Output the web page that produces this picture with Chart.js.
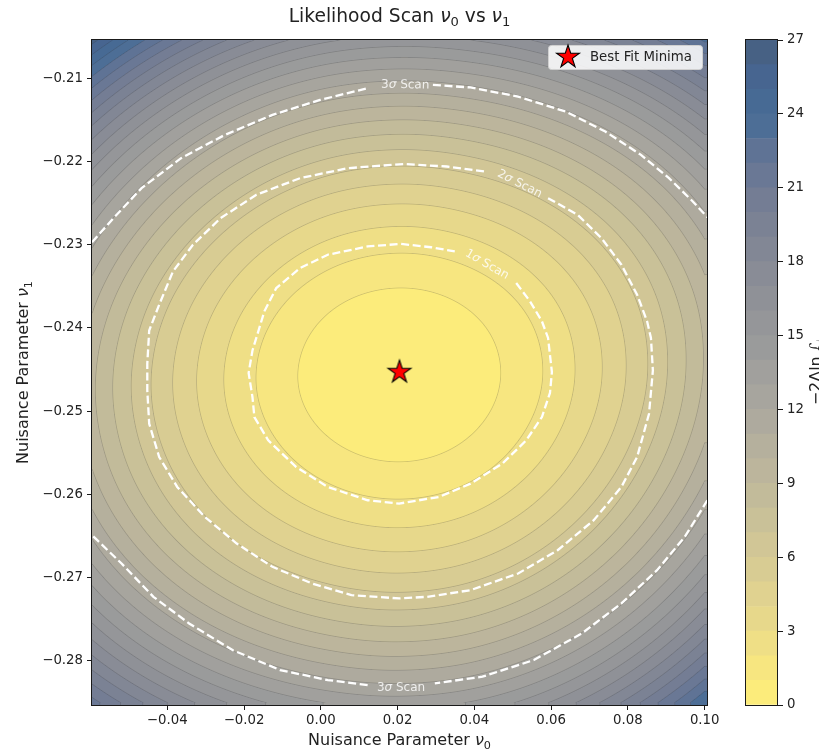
<!DOCTYPE html>
<html>
<head>
<meta charset="utf-8">
<title>Likelihood Scan</title>
<script src="https://cdn.jsdelivr.net/npm/chart.js@4.4.1/dist/chart.umd.min.js"></script>
<style>
  html, body { margin: 0; padding: 0; background: #ffffff; }
  #wrap { position: relative; width: 819px; height: 751px; overflow: hidden; }
  #scanChart { position: absolute; left: 0; top: 0; width: 819px; height: 751px; }
  #cbarChart { position: absolute; left: 745px; top: 0; width: 74px; height: 751px; }
</style>
</head>
<body>
<div id="wrap">
  <canvas id="scanChart" width="819" height="751"></canvas>
  <canvas id="cbarChart" width="74" height="751"></canvas>
</div>
<script>
// ---- data ----

// grid nodes of the scan (nu0 along x, nu1 along y)
const gridX = [-0.06, -0.04, -0.02, 0.00, 0.02, 0.04, 0.06, 0.08, 0.10];
const gridY = [-0.285, -0.275, -0.265, -0.255, -0.245, -0.235, -0.225, -0.215, -0.205];

// -2 Delta ln L at the grid nodes, one row per gridY value (bottom to top)
const chi2Grid = [
    [21.48, 18.00, 15.52, 14.03, 13.51, 14.14, 16.08, 19.35, 23.95],
    [15.87, 12.25,  9.66,  8.10,  7.56,  8.17, 10.05, 13.21, 17.66],
    [11.98,  8.21,  5.51,  3.89,  3.33,  3.91,  5.73,  8.79, 13.09],
    [ 9.81,  5.88,  3.08,  1.39,  0.81,  1.37,  3.13,  6.08, 10.23],
    [ 9.35,  5.27,  2.36,  0.60,  0.00,  0.55,  2.24,  5.08,  9.09],
    [10.78,  6.53,  3.50,  1.67,  1.04,  1.56,  3.18,  5.91,  9.75],
    [14.18,  9.76,  6.60,  4.69,  4.04,  4.54,  6.09,  8.69, 12.37],
    [19.53, 14.94, 11.66,  9.68,  9.00,  9.48, 10.95, 13.44, 16.94],
    [26.85, 22.08, 18.68, 16.63, 15.92, 16.37, 17.78, 20.15, 23.48]
];

// filled contour levels (also the colorbar bands)
const levels = [0, 1, 2, 3, 4, 5, 6, 7, 8, 9, 10, 11, 12, 13, 14, 15, 16, 17, 18, 19, 20, 21, 22, 23, 24, 25, 26, 27];
const cbarTicks = [0, 3, 6, 9, 12, 15, 18, 21, 24, 27];

const xTicks = [-0.04, -0.02, 0.00, 0.02, 0.04, 0.06, 0.08, 0.10];
const yTicks = [-0.28, -0.27, -0.26, -0.25, -0.24, -0.23, -0.22, -0.21];

const bestFit = [{ x: 0.0205, y: -0.2453 }];

// dashed sigma contours, [nu0, nu1], split where the inline labels sit
const sigma1Path = [
    [0.0509, -0.2346], [0.0545, -0.2368], [0.0576, -0.2392], [0.0592, -0.2412], [0.0602, -0.2453],
    [0.0597, -0.2478], [0.0576, -0.2507], [0.0535, -0.2535], [0.0473, -0.2563], [0.0390, -0.2587],
    [0.0308, -0.2603], [0.0204, -0.2611], [0.0122, -0.2607], [0.0018, -0.2591], [-0.0064, -0.2567],
    [-0.0137, -0.2535], [-0.0173, -0.2507], [-0.0178, -0.2483], [-0.0188, -0.2454], [-0.0178, -0.2427],
    [-0.0168, -0.2412], [-0.0147, -0.2380], [-0.0116, -0.2352], [-0.0054, -0.2328], [0.0018, -0.2312],
    [0.0122, -0.2302], [0.0209, -0.2299], [0.0287, -0.2303], [0.0349, -0.2308]
];
const sigma2Path = [
    [0.0592, -0.2244], [0.0669, -0.2264], [0.0731, -0.2292], [0.0783, -0.2324], [0.0824, -0.2360],
    [0.0850, -0.2392], [0.0860, -0.2412], [0.0865, -0.2451], [0.0855, -0.2503], [0.0824, -0.2555],
    [0.0783, -0.2591], [0.0711, -0.2631], [0.0617, -0.2667], [0.0514, -0.2695], [0.0390, -0.2715],
    [0.0277, -0.2723], [0.0204, -0.2725], [0.0080, -0.2721], [-0.0023, -0.2707], [-0.0126, -0.2687],
    [-0.0219, -0.2659], [-0.0302, -0.2627], [-0.0374, -0.2591], [-0.0421, -0.2555], [-0.0447, -0.2515],
    [-0.0452, -0.2475], [-0.0452, -0.2443], [-0.0447, -0.2403], [-0.0421, -0.2372], [-0.0385, -0.2332],
    [-0.0333, -0.2300], [-0.0261, -0.2268], [-0.0168, -0.2240], [-0.0054, -0.2220], [0.0070, -0.2208],
    [0.0215, -0.2203], [0.0328, -0.2206], [0.0426, -0.2212]
];
const sigma3UpperLeft = [
    [-0.0596, -0.2297], [-0.0540, -0.2268], [-0.0467, -0.2232], [-0.0364, -0.2196], [-0.0250, -0.2168],
    [-0.0126, -0.2144], [-0.0002, -0.2126], [0.0122, -0.2112]
];
const sigma3UpperRight = [
    [0.0292, -0.2108], [0.0390, -0.2111], [0.0514, -0.2122], [0.0638, -0.2140], [0.0741, -0.2164],
    [0.0834, -0.2192], [0.0907, -0.2220], [0.0969, -0.2248], [0.1007, -0.2267]
];
const sigma3LowerRight = [
    [0.1007, -0.2607], [0.0948, -0.2651], [0.0876, -0.2691], [0.0783, -0.2731], [0.0680, -0.2767],
    [0.0555, -0.2799], [0.0421, -0.2819], [0.0297, -0.2827]
];
const sigma3LowerLeft = [
    [0.0122, -0.2829], [0.0018, -0.2823], [-0.0106, -0.2811], [-0.0230, -0.2787], [-0.0343, -0.2755],
    [-0.0436, -0.2723], [-0.0519, -0.2683], [-0.0596, -0.2649]
];

// inline contour labels: sigma, nu0, nu1, angle (deg)
const contourLabels = [
    ['3', 0.0220, -0.2107, 1],
    ['2', 0.0519, -0.2226, 27],
    ['1', 0.0434, -0.2323, 30],
    ['3', 0.0209, -0.2831, 0]
];

// ---- styling ----
const FONT = "'DejaVu Sans', 'Liberation Sans', sans-serif";
const FIELD_ALPHA = 0.72;

// cividis colour stops
const cividisStops = [
    [0, 32, 76], [0, 42, 102], [0, 52, 110], [39, 63, 108], [60, 74, 107], [76, 85, 107],
    [91, 95, 109], [104, 106, 112], [117, 117, 117], [131, 129, 120], [146, 140, 120], [161, 152, 118],
    [176, 165, 114], [192, 177, 109], [209, 191, 102], [225, 204, 92], [243, 219, 79], [255, 233, 69]
];

function cividis(t) {
    t = Math.min(1, Math.max(0, t));
    const pos = t * (cividisStops.length - 1);
    const i = Math.min(cividisStops.length - 2, Math.floor(pos));
    const f = pos - i;
    const a = cividisStops[i], b = cividisStops[i + 1];
    return [0, 1, 2].map(k => a[k] + (b[k] - a[k]) * f);
}

// reversed cividis, blended over white with the contourf alpha
const nBands = levels.length - 1;
const bandRGB = [];
for (let i = 0; i < nBands; i++) {
    const c = cividis(1 - (i + 0.5) / nBands);
    bandRGB.push(c.map(v => Math.round(v * FIELD_ALPHA + 255 * (1 - FIELD_ALPHA))));
}
const bandCss = bandRGB.map(c => `rgb(${c[0]}, ${c[1]}, ${c[2]})`);

// ---- Catmull-Rom sampling of the scan grid ----
function gridValue(i, j) {
    const nx = gridX.length, ny = gridY.length;
    if (i < 0) return 3 * gridValue(0, j) - 3 * gridValue(1, j) + gridValue(2, j);
    if (i >= nx) return 3 * gridValue(nx - 1, j) - 3 * gridValue(nx - 2, j) + gridValue(nx - 3, j);
    if (j < 0) return 3 * gridValue(i, 0) - 3 * gridValue(i, 1) + gridValue(i, 2);
    if (j >= ny) return 3 * gridValue(i, ny - 1) - 3 * gridValue(i, ny - 2) + gridValue(i, ny - 3);
    return chi2Grid[j][i];
}

function catmull(p0, p1, p2, p3, t) {
    return 0.5 * (2 * p1 + (-p0 + p2) * t + (2 * p0 - 5 * p1 + 4 * p2 - p3) * t * t +
        (-p0 + 3 * p1 - 3 * p2 + p3) * t * t * t);
}

function sampleChi2(x, y) {
    const nx = gridX.length, ny = gridY.length;
    let gx = (x - gridX[0]) / (gridX[1] - gridX[0]);
    let gy = (y - gridY[0]) / (gridY[1] - gridY[0]);
    gx = Math.min(nx - 1, Math.max(0, gx));
    gy = Math.min(ny - 1, Math.max(0, gy));
    const i0 = Math.min(nx - 2, Math.floor(gx)), j0 = Math.min(ny - 2, Math.floor(gy));
    const tx = gx - i0, ty = gy - j0;
    const col = [];
    for (let m = -1; m <= 2; m++) {
        col.push(catmull(gridValue(i0 - 1, j0 + m), gridValue(i0, j0 + m),
            gridValue(i0 + 1, j0 + m), gridValue(i0 + 2, j0 + m), tx));
    }
    return catmull(col[0], col[1], col[2], col[3], ty);
}

// ---- text with italic / subscript pieces ----
function fontFor(kind, size) {
    if (kind === 'i') return `italic ${size}px ${FONT}`;
    if (kind === 's') return `${(size * 0.7).toFixed(1)}px ${FONT}`;
    return `${size}px ${FONT}`;
}

function richWidth(ctx, parts, size) {
    let w = 0;
    parts.forEach(([txt, kind]) => {
        ctx.font = fontFor(kind, size);
        w += ctx.measureText(txt).width;
    });
    return w;
}

function drawRich(ctx, parts, x, y, size, color) {
    // x is the centre of the whole string, y the baseline
    ctx.save();
    ctx.fillStyle = color;
    ctx.textBaseline = 'alphabetic';
    ctx.textAlign = 'left';
    let cx = x - richWidth(ctx, parts, size) / 2;
    parts.forEach(([txt, kind]) => {
        ctx.font = fontFor(kind, size);
        const dy = kind === 's' ? size * 0.22 : 0;
        ctx.fillText(txt, cx, y + dy);
        cx += ctx.measureText(txt).width;
    });
    ctx.restore();
}

// filled red star marker
function makeStar(r) {
    const s = Math.ceil(r * 2 + 4);
    const c = document.createElement('canvas');
    c.width = s;
    c.height = s;
    const g = c.getContext('2d');
    g.beginPath();
    for (let k = 0; k < 10; k++) {
        const rad = k % 2 === 0 ? r : r * 0.382;
        const a = -Math.PI / 2 + k * Math.PI / 5;
        const px = s / 2 + rad * Math.cos(a), py = s / 2 + rad * Math.sin(a);
        if (k === 0) g.moveTo(px, py); else g.lineTo(px, py);
    }
    g.closePath();
    g.fillStyle = '#ff0000';
    g.fill();
    g.lineWidth = 1.1;
    g.strokeStyle = '#000000';
    g.stroke();
    return c;
}
const starImg = makeStar(12);

function toPoints(path) {
    return path.map(p => ({ x: p[0], y: p[1] }));
}

function tickLabel(v) {
    const s = Math.abs(v).toFixed(2);
    return v < -1e-9 ? '\u2212' + s : s;
}

// ---- plugins ----
const fieldPlugin = {
    id: 'field',
    beforeDatasetsDraw(chart) {
        const area = chart.chartArea;
        const xs = chart.scales.x, ys = chart.scales.y;
        const w = Math.round(area.right - area.left), h = Math.round(area.bottom - area.top);
        if (!chart.$field || chart.$field.width !== w || chart.$field.height !== h) {
            const vals = new Float32Array(w * h);
            const xv = [];
            for (let i = 0; i < w; i++) xv.push(xs.getValueForPixel(area.left + i + 0.5));
            for (let j = 0; j < h; j++) {
                const yv = ys.getValueForPixel(area.top + j + 0.5);
                for (let i = 0; i < w; i++) vals[j * w + i] = Math.max(0, sampleChi2(xv[i], yv));
            }
            const off = document.createElement('canvas');
            off.width = w;
            off.height = h;
            const octx = off.getContext('2d');
            const img = octx.createImageData(w, h);
            const lineRGB = [40, 40, 40], lineAlpha = 0.22, halfWidth = 0.35;
            for (let j = 0; j < h; j++) {
                for (let i = 0; i < w; i++) {
                    const k = j * w + i;
                    const v = vals[k];
                    let b = 0;
                    while (b < nBands - 1 && v >= levels[b + 1]) b++;
                    const rgb = bandRGB[b];
                    // thin contour line at the nearest interior level
                    const lev = (v - levels[b] < levels[b + 1] - v) ? levels[b] : levels[b + 1];
                    let cov = 0;
                    if (lev > levels[0] && lev < levels[nBands]) {
                        const gx = (vals[j * w + Math.min(w - 1, i + 1)] - vals[j * w + Math.max(0, i - 1)]) / 2;
                        const gy = (vals[Math.min(h - 1, j + 1) * w + i] - vals[Math.max(0, j - 1) * w + i]) / 2;
                        const g = Math.hypot(gx, gy) || 1e-6;
                        const d = Math.abs(v - lev) / g;
                        cov = Math.min(1, Math.max(0, halfWidth + 0.5 - d)) * lineAlpha;
                    }
                    img.data[4 * k] = rgb[0] * (1 - cov) + lineRGB[0] * cov;
                    img.data[4 * k + 1] = rgb[1] * (1 - cov) + lineRGB[1] * cov;
                    img.data[4 * k + 2] = rgb[2] * (1 - cov) + lineRGB[2] * cov;
                    img.data[4 * k + 3] = 255;
                }
            }
            octx.putImageData(img, 0, 0);
            chart.$field = off;
        }
        chart.ctx.drawImage(chart.$field, area.left, area.top);
    },
    afterDatasetsDraw(chart) {
        const ctx = chart.ctx;
        const xs = chart.scales.x, ys = chart.scales.y;
        // inline contour labels
        contourLabels.forEach(([n, x, y, ang]) => {
            ctx.save();
            ctx.translate(xs.getPixelForValue(x), ys.getPixelForValue(y));
            ctx.rotate(ang * Math.PI / 180);
            drawRich(ctx, [[n, 'n'], ['\u03c3', 'i'], [' Scan', 'n']], 0, 4, 12, 'rgba(255,255,255,0.82)');
            ctx.restore();
        });
        // legend box in the upper right corner
        const area = chart.chartArea;
        const bx = area.right - 159, by = area.top + 5, bw = 154, bh = 24;
        ctx.save();
        ctx.beginPath();
        ctx.roundRect(bx + 0.5, by + 0.5, bw, bh, 3);
        ctx.fillStyle = 'rgba(255,255,255,0.85)';
        ctx.fill();
        ctx.strokeStyle = '#d0d0d0';
        ctx.lineWidth = 1;
        ctx.stroke();
        ctx.drawImage(starImg, bx + 20 - starImg.width / 2, by + 12 - starImg.height / 2);
        ctx.font = `13.3px ${FONT}`;
        ctx.fillStyle = '#222222';
        ctx.textBaseline = 'middle';
        ctx.fillText('Best Fit Minima', bx + 42, by + 13);
        ctx.restore();
    },
    afterDraw(chart) {
        const ctx = chart.ctx;
        const area = chart.chartArea;
        ctx.save();
        ctx.strokeStyle = '#1a1a1a';
        ctx.lineWidth = 1;
        ctx.strokeRect(area.left - 0.5, area.top - 0.5, area.right - area.left + 1, area.bottom - area.top + 1);
        ctx.restore();
        const cx = (area.left + area.right) / 2;
        drawRich(ctx, [['Likelihood Scan ', 'n'], ['\u03bd', 'i'], ['0', 's'], [' vs ', 'n'], ['\u03bd', 'i'], ['1', 's']],
            cx, 22, 18.7, '#222222');
        drawRich(ctx, [['Nuisance Parameter ', 'n'], ['\u03bd', 'i'], ['0', 's']], cx, 745, 16, '#222222');
        ctx.save();
        ctx.translate(28, (area.top + area.bottom) / 2);
        ctx.rotate(-Math.PI / 2);
        drawRich(ctx, [['Nuisance Parameter ', 'n'], ['\u03bd', 'i'], ['1', 's']], 0, 0, 16, '#222222');
        ctx.restore();
    }
};

const cbarPlugin = {
    id: 'cbarFrame',
    afterDraw(chart) {
        const ctx = chart.ctx;
        const area = chart.chartArea;
        ctx.save();
        ctx.strokeStyle = '#1a1a1a';
        ctx.lineWidth = 1;
        ctx.strokeRect(area.left + 0.5, area.top - 0.5, area.right - area.left - 1, area.bottom - area.top + 1);
        ctx.translate(76, (area.top + area.bottom) / 2);
        ctx.rotate(-Math.PI / 2);
        drawRich(ctx, [['\u22122\u0394ln ', 'n'], ['\u2112', 'n']], 0, 0, 16, '#222222');
        ctx.restore();
    }
};

// ---- main scan chart ----
const dashStyle = {
    showLine: true,
    borderColor: '#ffffff',
    borderWidth: 2.3,
    borderDash: [8, 3.6],
    pointRadius: 0,
    fill: false,
    tension: 0
};

new Chart(document.getElementById('scanChart'), {
    type: 'scatter',
    data: {
        datasets: [
            { label: 'Best Fit Minima', data: bestFit, pointStyle: starImg, pointRadius: 12 },
            Object.assign({ label: '1\u03c3', data: toPoints(sigma1Path) }, dashStyle),
            Object.assign({ label: '2\u03c3', data: toPoints(sigma2Path) }, dashStyle),
            Object.assign({ label: '3\u03c3 a', data: toPoints(sigma3UpperLeft) }, dashStyle),
            Object.assign({ label: '3\u03c3 b', data: toPoints(sigma3UpperRight) }, dashStyle),
            Object.assign({ label: '3\u03c3 c', data: toPoints(sigma3LowerRight) }, dashStyle),
            Object.assign({ label: '3\u03c3 d', data: toPoints(sigma3LowerLeft) }, dashStyle)
        ]
    },
    options: {
        responsive: false,
        animation: false,
        devicePixelRatio: 1,
        layout: { padding: { top: 40, right: 112, left: 0, bottom: 0 } },
        plugins: {
            legend: { display: false },
            tooltip: { enabled: false }
        },
        scales: {
            x: {
                type: 'linear',
                min: -0.0596,
                max: 0.1006,
                afterBuildTicks: (scale) => { scale.ticks = xTicks.map(v => ({ value: v })); },
                afterFit: (scale) => { scale.height = 46; },
                grid: { drawOnChartArea: false, drawTicks: true, tickLength: 5, color: '#1a1a1a' },
                border: { display: false },
                ticks: { callback: tickLabel, color: '#222222', font: { family: FONT, size: 13.3 }, padding: 3, maxRotation: 0 }
            },
            y: {
                type: 'linear',
                min: -0.2853,
                max: -0.2054,
                afterBuildTicks: (scale) => { scale.ticks = yTicks.map(v => ({ value: v })); },
                afterFit: (scale) => { scale.width = 92; },
                grid: { drawOnChartArea: false, drawTicks: true, tickLength: 5, color: '#1a1a1a' },
                border: { display: false },
                ticks: { callback: tickLabel, color: '#222222', font: { family: FONT, size: 13.3 }, padding: 4 }
            }
        }
    },
    plugins: [fieldPlugin]
});

// ---- colorbar ----
new Chart(document.getElementById('cbarChart'), {
    type: 'bar',
    data: {
        labels: [''],
        datasets: levels.slice(0, -1).map((lo, i) => ({
            label: `${lo}-${levels[i + 1]}`,
            data: [[lo, levels[i + 1]]],
            backgroundColor: bandCss[i],
            borderWidth: 0,
            grouped: false,
            barPercentage: 1,
            categoryPercentage: 1
        }))
    },
    options: {
        responsive: false,
        animation: false,
        devicePixelRatio: 1,
        layout: { padding: { top: 40, bottom: 46, left: 0, right: 0 } },
        plugins: {
            legend: { display: false },
            tooltip: { enabled: false }
        },
        scales: {
            x: { display: false },
            y: {
                position: 'right',
                min: levels[0],
                max: levels[levels.length - 1],
                afterBuildTicks: (scale) => { scale.ticks = cbarTicks.map(v => ({ value: v })); },
                afterFit: (scale) => { scale.width = 41; },
                grid: { drawOnChartArea: false, drawTicks: true, tickLength: 5, color: '#1a1a1a' },
                border: { display: false },
                ticks: { color: '#222222', font: { family: FONT, size: 13.3 }, padding: 4 }
            }
        }
    },
    plugins: [cbarPlugin]
});
</script>
</body>
</html>
